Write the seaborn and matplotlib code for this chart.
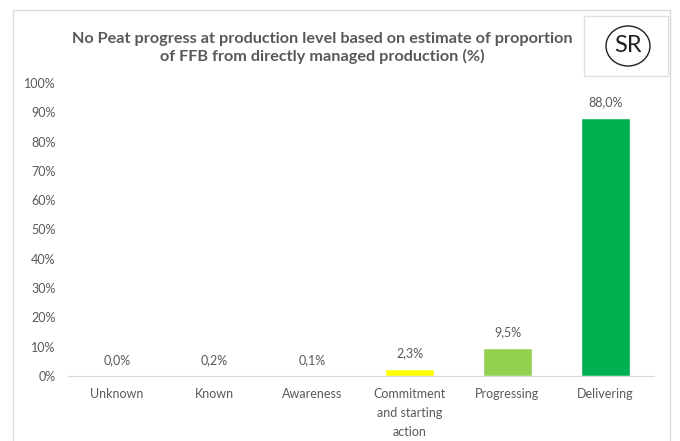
import matplotlib
matplotlib.use("Agg")
import matplotlib.pyplot as plt
from matplotlib.patches import Rectangle, Ellipse
import numpy as np
import pandas as pd
import seaborn as sns

# data
categories = ["Unknown", "Known", "Awareness", "Commitment\nand starting\naction", "Progressing", "Delivering"]
values = [0.0, 0.2, 0.1, 2.3, 9.5, 88.0]
value_labels = ["0,0%", "0,2%", "0,1%", "2,3%", "9,5%", "88,0%"]
bar_colors = ["#BFBFBF", "#FF0000", "#FFC000", "#FFFF00", "#92D050", "#00B050"]
title = "No Peat progress at production level based on estimate of proportion\nof FFB from directly managed production (%)"

sns.set_style("white")
plt.rcParams['font.family'] = ['Lato', 'DejaVu Sans']
grey = "#595959"

df = pd.DataFrame({"stage": categories, "pct": values})

fig = plt.figure(figsize=(6.8, 4.41), dpi=100)
ax = fig.add_axes([68/680, 65/441, (654-68)/680, (376-83)/441])

sns.barplot(data=df, x="stage", y="pct", hue="stage", palette=bar_colors,
            legend=False, width=0.5, ax=ax, saturation=1)

for cont, lab in zip(ax.containers, value_labels):
    ax.bar_label(cont, labels=[lab], padding=7, fontsize=9, color=grey)

ax.set_ylim(0, 100)
ax.set_xlim(-0.5, 5.5)
ax.set_yticks(np.arange(0, 101, 10))
ax.set_yticklabels([f"{t}%" for t in range(0, 101, 10)])
ax.set_xlabel("")
ax.set_ylabel("")
ax.tick_params(axis="both", length=0, labelsize=9, colors=grey)
ax.tick_params(axis="y", pad=9)
ax.tick_params(axis="x", pad=8.5)
for t in ax.get_xticklabels():
    t.set_linespacing(1.7)
for s in ["top", "left", "right"]:
    ax.spines[s].set_visible(False)
ax.spines["bottom"].set_color("#D9D9D9")

# outer chart frame
fig.patches.append(Rectangle((13/680, -0.05), (670-13)/680, (441-10)/441 + 0.05,
                             transform=fig.transFigure, fill=False,
                             edgecolor="#D9D9D9", linewidth=1))

fig.text(322/680, 1 - 48/441, title, ha="center", va="center", fontsize=11.7,
         fontweight="bold", color=grey, linespacing=1.17)

# SR logo box
fig.patches.append(Rectangle((584/680, 1 - 76/441), (668-584)/680, (76-16)/441,
                             transform=fig.transFigure, fill=False,
                             edgecolor="#E0E0E0", linewidth=1))
fig.patches.append(Ellipse((628/680, 1 - 46/441), 44/680, 40/441,
                           transform=fig.transFigure, fill=False,
                           edgecolor="#202020", linewidth=1))
fig.text(628/680, 1 - 46/441, "SR", ha="center", va="center", fontsize=17,
         color="#202020")

fig.savefig("out.png", dpi=100)
